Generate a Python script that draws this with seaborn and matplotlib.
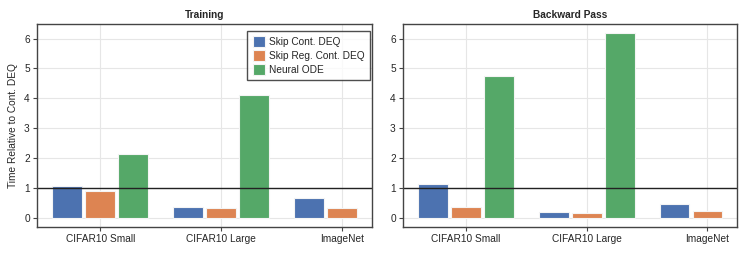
import numpy as np
import pandas as pd
import seaborn as sns
import matplotlib.pyplot as plt

datasets = ["CIFAR10 Small", "CIFAR10 Large", "ImageNet"]
models = ["Skip Cont. DEQ", "Skip Reg. Cont. DEQ", "Neural ODE"]

training_skip = [1.07, 0.35, 0.65]
training_skipreg = [0.90, 0.32, 0.32]
training_node = [2.13, 4.10, np.nan]

backward_skip = [1.12, 0.20, 0.45]
backward_skipreg = [0.35, 0.17, 0.23]
backward_node = [4.75, 6.18, np.nan]

colors = ["#4C72B0", "#DD8452", "#55A868"]
fs = 7.3


def to_long(skip, skipreg, node):
    rows = []
    for model, vals in zip(models, [skip, skipreg, node]):
        for ds, v in zip(datasets, vals):
            rows.append({"Dataset": ds, "Model": model, "Time": v})
    return pd.DataFrame(rows)


df_train = to_long(training_skip, training_skipreg, training_node)
df_back = to_long(backward_skip, backward_skipreg, backward_node)

sns.set_theme(style="white")
plt.rcParams["font.family"] = ["Liberation Sans", "DejaVu Sans"]

fig = plt.figure(figsize=(7.47, 2.54), dpi=100)
ax1 = fig.add_axes([36.7 / 747, 1 - 227 / 254, (372 - 36.7) / 747, 203 / 254])
ax2 = fig.add_axes([402.7 / 747, 1 - 227 / 254, (737 - 402.7) / 747, 203 / 254])

for ax, df, title in [(ax1, df_train, "Training"), (ax2, df_back, "Backward Pass")]:
    ax.set_axisbelow(True)
    sns.barplot(data=df, x="Dataset", y="Time", hue="Model", hue_order=models,
                palette=colors, width=0.82, gap=0.1, ax=ax,
                edgecolor="#f4f4f4", linewidth=0.8, legend=(ax is ax1),
                saturation=1)
    ax.grid(True, axis="both", color="#e6e6e6", linewidth=0.8)
    ax.axhline(1, color="#222222", linewidth=1)
    ax.set_ylim(-0.31, 6.49)
    ax.set_xlim(-0.525, 2.245)
    ax.set_yticks(range(0, 7))
    ax.set_xlabel("")
    ax.set_ylabel("")
    ax.set_title(title, fontsize=fs, fontweight="bold", pad=4)
    ax.tick_params(axis="both", labelsize=fs, length=3, width=0.8,
                   color="#444444", pad=2, bottom=True, left=True)
    for s in ax.spines.values():
        s.set_color("#444444")
        s.set_linewidth(1)

ax1.set_ylabel("Time Relative to Cont. DEQ", fontsize=fs, labelpad=4)
leg = ax1.legend(loc="upper right", fontsize=fs, frameon=True, fancybox=False,
                 edgecolor="#222222", handlelength=1.2, handleheight=1.25,
                 handletextpad=0.4, borderpad=0.55, labelspacing=0.3,
                 borderaxespad=0, bbox_to_anchor=(0.995, 0.966))
leg.get_frame().set_linewidth(1)

fig.savefig("out.png", dpi=100)
